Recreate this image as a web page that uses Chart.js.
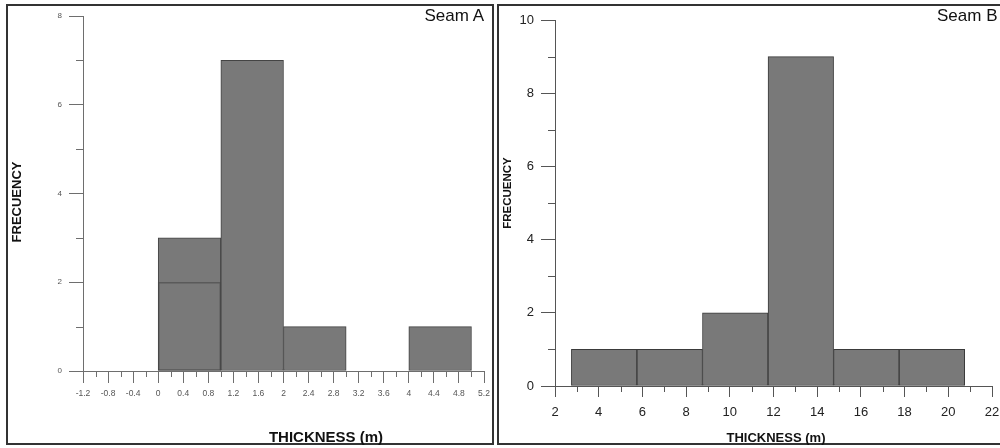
<!DOCTYPE html>
<html>
<head>
<meta charset="utf-8">
<script src="https://cdn.jsdelivr.net/npm/chart.js@4.4.1/dist/chart.umd.min.js"></script>
<style>
  html, body { margin: 0; padding: 0; background: #fff; width: 1000px; height: 448px; overflow: hidden; position: relative; font-family: "Liberation Sans", Arial, sans-serif; }
  .panel { position: absolute; border: 2px solid #333; box-sizing: border-box; }
  canvas { position: absolute; }
  .txt { position: absolute; white-space: nowrap; color: #111; }
  .rot { transform: rotate(-90deg); transform-origin: 50% 50%; text-align: center; }
</style>
</head>
<body>
<div class="panel" style="left:6px; top:4px; width:488px; height:441px;"></div>
<div class="panel" style="left:497px; top:4px; width:520px; height:441px;"></div>
<canvas id="chartA" width="484" height="438" style="left:8px; top:6px;"></canvas>
<canvas id="chartB" width="500" height="438" style="left:500px; top:6px;"></canvas>

<div class="txt" style="left:384px; top:6px; width:100px; text-align:right; font-size:17px; line-height:20px;">Seam A</div>
<div class="txt" style="left:937px; top:6px; font-size:17px; line-height:20px;">Seam B</div>
<div class="txt" style="left:226px; top:428px; width:200px; text-align:center; font-size:15px; line-height:17px; font-weight:bold;">THICKNESS (m)</div>
<div class="txt" style="left:676px; top:430px; width:200px; text-align:center; font-size:13px; line-height:15px; font-weight:bold;">THICKNESS (m)</div>
<div class="txt rot" style="left:-43px; top:194px; width:120px; height:16px; font-size:13px; line-height:16px; font-weight:bold;">FRECUENCY</div>
<div class="txt rot" style="left:457px; top:186px; width:100px; height:14px; font-size:11.5px; line-height:14px; font-weight:bold;">FRECUENCY</div>

<script>
// ---------- Seam A data ----------
const binStartA = [0, 1, 2, 3, 4];
const binEndA   = [1, 2, 3, 4, 5];
const freqA     = [3, 7, 1, 0, 1];
const ghostA    = [2, null, null, null, null];   // faint overlapping outline seen in first bin
const xTicksA   = ['-1.2','-0.8','-0.4','0','0.4','0.8','1.2','1.6','2','2.4','2.8','3.2','3.6','4','4.4','4.8','5.2'];
const xMinorA   = [-1.0,-0.6,-0.2,0.2,0.6,1.0,1.4,1.8,2.2,2.6,3.0,3.4,3.8,4.2,4.6,5.0];
const yTicksA   = ['0','2','4','6','8'];
const yMinorA   = [1, 3, 5, 7];

// ---------- Seam B data ----------
const binStartB = [2.75, 5.75, 8.75, 11.75, 14.75, 17.75];
const binEndB   = [5.75, 8.75, 11.75, 14.75, 17.75, 20.75];
const freqB     = [1, 1, 2, 9, 1, 1];
const xTicksB   = ['2','4','6','8','10','12','14','16','18','20','22'];
const xMinorB   = [3, 5, 7, 9, 11, 13, 15, 17, 19, 21];
const yTicksB   = ['0','2','4','6','8','10'];
const yMinorB   = [1, 3, 5, 7, 9];

Chart.defaults.font.family = '"Liberation Sans", Arial, sans-serif';

const minorTicks = {
  id: 'minorTicks',
  afterDraw(chart, args, opts) {
    const ctx = chart.ctx;
    const area = chart.chartArea;
    ctx.save();
    ctx.lineWidth = 1;
    ctx.strokeStyle = opts.color;
    const xs = chart.scales.x, ys = chart.scales.y;
    opts.x.forEach(v => {
      const p = Math.round(xs.getPixelForValue(v)) + 0.5;
      ctx.beginPath(); ctx.moveTo(p, area.bottom); ctx.lineTo(p, area.bottom + opts.xLen); ctx.stroke();
    });
    opts.y.forEach(v => {
      const p = Math.round(ys.getPixelForValue(v)) + 0.5;
      ctx.beginPath(); ctx.moveTo(area.left - opts.yLen, p); ctx.lineTo(area.left, p); ctx.stroke();
    });
    ctx.restore();
  }
};

function bars(starts, ends, vals) {
  const out = [];
  vals.forEach((v, i) => { if (v !== null) out.push({ x: (starts[i] + ends[i]) / 2, y: v }); });
  return out;
}

function makeChart(id, cfg) {
  const xVals = cfg.xTicks.map(parseFloat);
  const yVals = cfg.yTicks.map(parseFloat);
  return new Chart(document.getElementById(id), {
    type: 'bar',
    data: { datasets: cfg.datasets },
    options: {
      responsive: false,
      animation: false,
      events: [],
      layout: { padding: cfg.padding },
      plugins: {
        legend: { display: false },
        tooltip: { enabled: false },
        minorTicks: { x: cfg.xMinor, y: cfg.yMinor, xLen: cfg.xMinorLen, yLen: 7, color: cfg.axisColor }
      },
      scales: {
        xb: {
          type: 'linear', display: false, offset: false, grid: { offset: false },
          min: xVals[0], max: xVals[xVals.length - 1],
          afterBuildTicks: s => { s.ticks = []; }
        },
        x: {
          type: 'linear', position: 'bottom', offset: false,
          min: xVals[0], max: xVals[xVals.length - 1],
          afterBuildTicks: s => { s.ticks = xVals.map(v => ({ value: v })); },
          afterFit: s => { s.height = cfg.xHeight; s.paddingLeft = 0; s.paddingRight = 0; },
          grid: { offset: false, drawOnChartArea: false, drawTicks: true, tickLength: cfg.xTickLen, color: cfg.axisColor },
          border: { display: true, color: cfg.axisColor, width: 1 },
          ticks: {
            autoSkip: false, maxRotation: 0, minRotation: 0, padding: cfg.xPad,
            color: cfg.labelColor, font: { size: cfg.fontSize },
            callback: (v, i) => cfg.xTicks[i]
          }
        },
        y: {
          type: 'linear', position: 'left', offset: false,
          min: yVals[0], max: yVals[yVals.length - 1],
          afterBuildTicks: s => { s.ticks = yVals.map(v => ({ value: v })); },
          afterFit: s => { s.width = cfg.yWidth; s.paddingTop = 0; s.paddingBottom = 0; },
          grid: { offset: false, drawOnChartArea: false, drawTicks: true, tickLength: 14, color: cfg.axisColor },
          border: { display: true, color: cfg.axisColor, width: 1 },
          ticks: {
            padding: 7, color: cfg.labelColor, font: { size: cfg.yFontSize },
            callback: (v, i) => cfg.yTicks[i]
          }
        }
      }
    },
    plugins: [minorTicks]
  });
}

makeChart('chartA', {
  xTicks: xTicksA, yTicks: yTicksA, xMinor: xMinorA, yMinor: yMinorA,
  padding: { top: 10, right: 8, bottom: 0, left: 0 },
  xHeight: 73, yWidth: 75, xTickLen: 12, xMinorLen: 6, xPad: 6,
  fontSize: 8.5, yFontSize: 8, labelColor: '#555', axisColor: '#6e6e6e',
  datasets: [
    {
      label: 'overlap', xAxisID: 'xb', data: bars(binStartA, binEndA, ghostA),
      backgroundColor: 'rgba(0,0,0,0)', borderColor: 'rgba(70,70,70,0.6)', borderWidth: 1,
      borderSkipped: false, grouped: false, barPercentage: 1, categoryPercentage: 1
    },
    {
      label: 'Seam A', xAxisID: 'xb', data: bars(binStartA, binEndA, freqA),
      backgroundColor: '#797979', borderColor: '#444', borderWidth: 1,
      borderSkipped: false, grouped: false, barPercentage: 1, categoryPercentage: 1
    }
  ]
});

makeChart('chartB', {
  xTicks: xTicksB, yTicks: yTicksB, xMinor: xMinorB, yMinor: yMinorB,
  padding: { top: 14, right: 8, bottom: 0, left: 0 },
  xHeight: 58, yWidth: 55, xTickLen: 11, xMinorLen: 6, xPad: 8,
  fontSize: 13, yFontSize: 13, labelColor: '#222', axisColor: '#555',
  datasets: [
    {
      label: 'Seam B', xAxisID: 'xb', data: bars(binStartB, binEndB, freqB),
      backgroundColor: '#797979', borderColor: '#3a3a3a', borderWidth: 1,
      borderSkipped: false, grouped: false, barPercentage: 1, categoryPercentage: 1
    }
  ]
});
</script>
</body>
</html>
